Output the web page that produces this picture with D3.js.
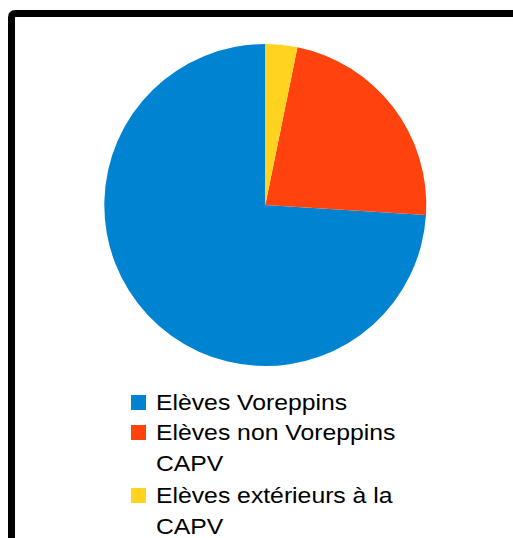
<!DOCTYPE html>
<html>
<head>
<meta charset="utf-8">
<script src="https://cdn.jsdelivr.net/npm/d3@7"></script>
<style>
  body { margin: 0; background: #fff; }
  svg { display: block; }
</style>
</head>
<body>
<div id="chart"></div>
<script>
// données (parts en %)
const categories = ["Elèves Voreppins", "Elèves non Voreppins CAPV", "Elèves extérieurs à la CAPV"];
const values = [74, 22.8, 3.2];
const colors = ["#0084d1", "#ff420e", "#ffd320"];
// lignes de la légende
const legendLines = [["Elèves Voreppins"], ["Elèves non Voreppins", "CAPV"], ["Elèves extérieurs à la", "CAPV"]];

const width = 513, height = 538;

const svg = d3.select("#chart").append("svg")
    .attr("width", width)
    .attr("height", height);

svg.append("rect").attr("width", width).attr("height", height).attr("fill", "#fff");

// cadre (bord gauche + haut)
svg.append("path")
    .attr("d", "M11.5," + (height + 5) + " L11.5,17.5 Q11.5,13.5 15.5,13.5 L" + (width + 5) + ",13.5")
    .attr("fill", "none")
    .attr("stroke", "#000")
    .attr("stroke-width", 7);

// camembert : départ en haut, sens anti-horaire
const cx = 265.3, cy = 205, r = 161;
const pie = d3.pie()
    .sort(null)
    .value(d => d)
    .startAngle(0)
    .endAngle(-2 * Math.PI);
const arc = d3.arc().innerRadius(0).outerRadius(r);

svg.append("g")
    .attr("transform", "translate(" + cx + "," + cy + ")")
    .selectAll("path")
    .data(pie(values))
    .enter()
    .append("path")
    .attr("d", arc)
    .attr("fill", (d, i) => colors[i]);

// légende
const legend = svg.append("g").attr("class", "legend");
const entryY = [402, 432, 495];
const lineH = 31;

categories.forEach((c, i) => {
    const g = legend.append("g");
    g.append("rect")
        .attr("x", 131)
        .attr("y", entryY[i] - 7)
        .attr("width", 15)
        .attr("height", 15)
        .attr("fill", colors[i]);
    const t = g.append("text")
        .attr("font-family", "'Liberation Sans', Arial, sans-serif")
        .attr("font-size", 22.5)
        .attr("fill", "#000")
        .attr("transform", "translate(156," + (entryY[i] + 8) + ") scale(1.1,1)");
    legendLines[i].forEach((l, j) => {
        t.append("tspan").attr("x", 0).attr("y", j * lineH).text(l);
    });
});
</script>
</body>
</html>
